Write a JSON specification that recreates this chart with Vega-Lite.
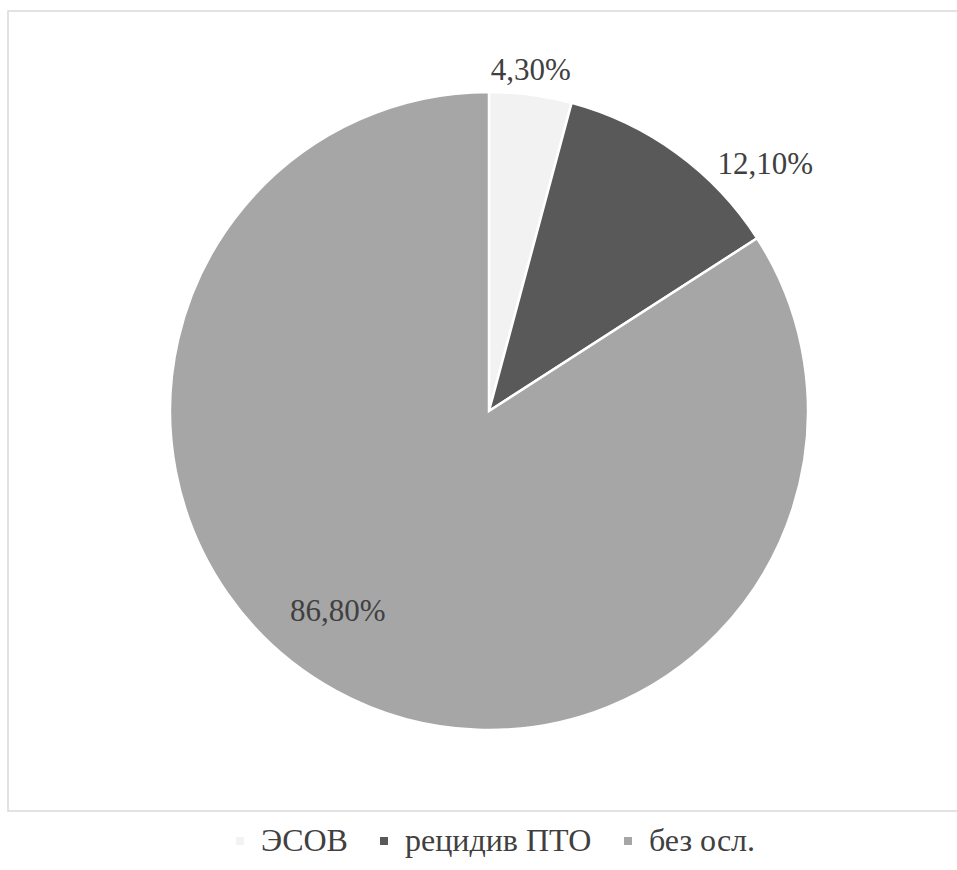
{
  "$schema": "https://vega.github.io/schema/vega-lite/v6.json",
  "width": 962,
  "height": 800,
  "autosize": "none",
  "padding": {"left": 8, "top": 11, "right": 0, "bottom": 59},
  "background": "white",
  "view": {"stroke": "#d9d9d9", "strokeWidth": 1.5, "fill": "white"},
  "config": {
    "font": "Liberation Serif"
  },
  "data": {
    "values": [
      {"cat": "ЭСОВ", "value": 4.3, "label": "4,30%", "order": 1},
      {"cat": "рецидив ПТО", "value": 12.1, "label": "12,10%", "order": 2},
      {"cat": "без осл.", "value": 86.8, "label": "86,80%", "order": 3}
    ]
  },
  "encoding": {
    "theta": {"field": "value", "type": "quantitative", "stack": true},
    "order": {"field": "order", "type": "quantitative"}
  },
  "layer": [
    {
      "mark": {"type": "arc", "radius": 319, "stroke": "white", "strokeWidth": 2.5},
      "encoding": {
        "color": {
          "field": "cat",
          "type": "nominal",
          "scale": {"domain": ["ЭСОВ", "рецидив ПТО", "без осл."], "range": ["#f2f2f2", "#595959", "#a6a6a6"]},
          "legend": {
            "orient": "none",
            "legendX": 216,
            "legendY": 814,
            "direction": "horizontal",
            "title": null,
            "symbolType": "square",
            "symbolSize": 64,
            "symbolStrokeWidth": 0,
            "labelFont": "Liberation Serif",
            "labelFontSize": 32,
            "labelColor": "#404040",
            "labelLimit": 0,
            "labelOffset": 5,
            "columnPadding": 20
          }
        }
      }
    },
    {
      "mark": {"type": "text", "radius": 343, "dx": -3, "font": "Liberation Serif", "fontSize": 31, "fill": "#404040"},
      "encoding": {
        "text": {"condition": {"test": "datum.cat === 'ЭСОВ'", "field": "label"}, "value": ""}
      }
    },
    {
      "mark": {"type": "text", "radius": 362, "dx": 63, "dy": 46, "font": "Liberation Serif", "fontSize": 31, "fill": "#404040"},
      "encoding": {
        "text": {"condition": {"test": "datum.cat === 'рецидив ПТО'", "field": "label"}, "value": ""}
      }
    },
    {
      "mark": {"type": "text", "radius": 251, "dx": -31, "dy": -19, "font": "Liberation Serif", "fontSize": 31, "fill": "#404040"},
      "encoding": {
        "text": {"condition": {"test": "datum.cat === 'без осл.'", "field": "label"}, "value": ""}
      }
    }
  ]
}
